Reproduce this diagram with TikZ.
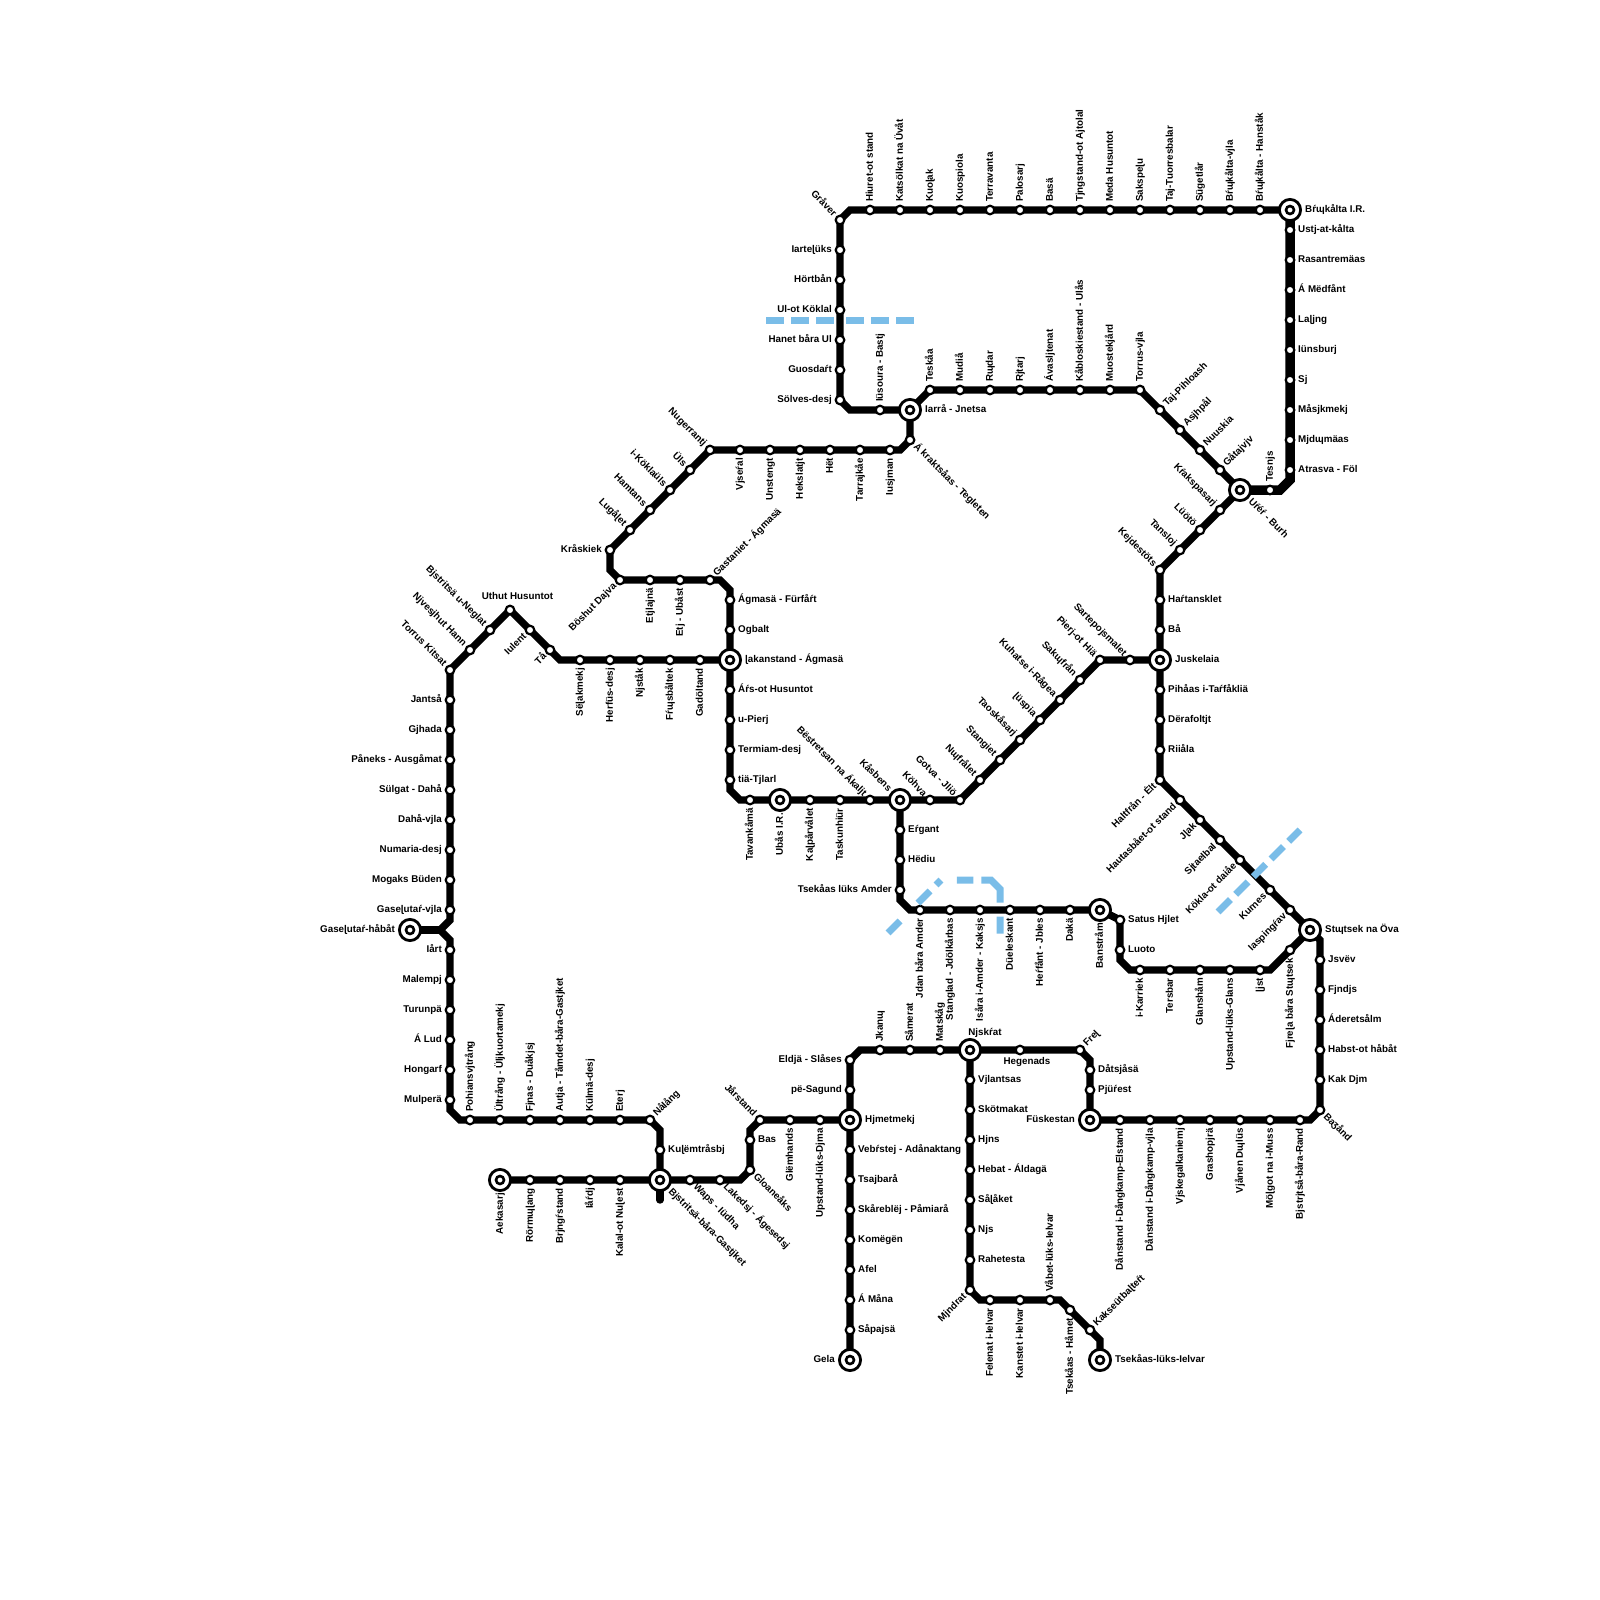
\documentclass[tikz,border=0pt]{standalone}
\usepackage{fontspec}
\setmainfont{Liberation Sans}
\usetikzlibrary{backgrounds}
\definecolor{zoneblue}{HTML}{7ABDE8}

\begin{document}
\begin{tikzpicture}[
  x=1pt, y=-1pt,
  stop/.style={circle, draw=black, fill=white, line width=2.2pt, inner sep=0pt, minimum size=8.6pt},
  hub/.style={circle, draw=black, fill=white, line width=2.8pt, inner sep=0pt, minimum size=21.2pt},
  hubin/.style={circle, draw=black, fill=white, line width=2.6pt, inner sep=0pt, minimum size=8pt},
  metro/.style={line width=7.4pt},
  trunk/.style={line width=9.5pt},
  zone/.style={line width=7pt, zoneblue},
  lbl/.style={font=\bfseries\fontsize{9.8}{11}\selectfont, inner sep=0pt, text height=7.2pt, text depth=1.6pt},
  % station labels
  lup/.style={lbl, rotate=90, anchor=west, xshift=8pt},
  ldn/.style={lbl, rotate=90, anchor=east, xshift=-8pt},
  lle/.style={lbl, anchor=east, xshift=-8pt},
  lri/.style={lbl, anchor=west, xshift=8pt},
  lur/.style={lbl, rotate=45, anchor=west, xshift=7pt},
  ldl/.style={lbl, rotate=45, anchor=east, xshift=-7pt},
  lul/.style={lbl, rotate=-45, anchor=east, xshift=-7pt},
  ldr/.style={lbl, rotate=-45, anchor=west, xshift=7pt},
  ltop/.style={lbl, anchor=south, xshift=7.5pt, yshift=9pt},
  lbot/.style={lbl, anchor=north, xshift=7pt, yshift=-7.5pt},
  % hub labels
  hri/.style={lbl, anchor=west, xshift=15pt},
  hle/.style={lbl, anchor=east, xshift=-15pt},
  hdn/.style={lbl, rotate=90, anchor=east, xshift=-13pt},
  hul/.style={lbl, rotate=-45, anchor=east, xshift=-14pt},
  hdr/.style={lbl, rotate=-45, anchor=west, xshift=14pt},
  htop/.style={lbl, anchor=south, xshift=15pt, yshift=13pt},
]
\useasboundingbox (0,0) rectangle (1600,1600);

% Interchanges
\foreach \id/\sx/\sy/\sdir/\stxt in {
  iarra/910/410/hri/Iarrå - Jnetsa, bruk/1290/210/hri/Bŕɰkålta I.R.,
  urer/1240/490/hdr/Uŕéŕ - Burh, jusk/1160/660/hri/Juskelaia,
  kasb/900/800/hul/Kåsbens, ubas/780/800/hdn/Ubås I.R.,
  lakan/730/660/hri/ɭakanstand - Ágmasä, stut/1310/930/hri/Stɰtsek na Öva,
  bans/1100/910/hdn/Banstråm, gase/410/930/hle/Gaseɭutaŕ-håbåt,
  bjst/660/1180/hdr/Bjstritsä-båra-Gastjket, aeka/500/1180/hdn/Aekasarj,
  hjme/850/1120/hri/Hjmetmekj, njsk/970/1050/htop/Njskŕat,
  fusk/1090/1120/hle/Füskestan, gela/850/1360/hle/Gela,
  tsek/1100/1360/hri/Tsekåas-lüks-Ielvar}
{
  \node[hub] (\id) at (\sx,\sy) {};
  \node[hubin] (\id-c) at (\id) {};
  \node[\sdir] (\id-t) at (\id) {\stxt};
}

% Stations
\foreach \id/\sx/\sy/\sdir/\stxt in {
  a1/880/410/lup/Iüsoura - Bastj, a2/840/400/lle/Sölves-desj, a3/840/370/lle/Guosdaŕt,
  a4/840/340/lle/Hanet båra Ul, a5/840/310/lle/Ul-ot Köklal, a6/840/280/lle/Hörtbån,
  a7/840/250/lle/Iarteɭüks, a8/840/220/lul/Gråver, a9/870/210/lup/Hiuret-ot stand,
  a10/900/210/lup/Katsölkat na Üvåt, a11/930/210/lup/Kuoɭak, a12/960/210/lup/Kuospiola,
  a13/990/210/lup/Terravanta, a14/1020/210/lup/Palosarj, a15/1050/210/lup/Basä,
  a16/1080/210/lup/Tjngstand-ot Ajtolal, a17/1110/210/lup/Meda Husuntot,
  a18/1140/210/lup/Sakspeɭu, a19/1170/210/lup/Taj-Tuorresbalar, a20/1200/210/lup/Sügetlår,
  a21/1230/210/lup/Bŕɰkålta-vjla, a22/1260/210/lup/Bŕɰkålta - Hanståk,
  a23/1290/230/lri/Ustj-at-kålta, a24/1290/260/lri/Rasantremäas, a25/1290/290/lri/Á Mëdfånt,
  a26/1290/320/lri/Laɭjng, a27/1290/350/lri/Iünsburj, a28/1290/380/lri/Sj,
  a29/1290/410/lri/Måsjkmekj, a30/1290/440/lri/Mjdɰmäas, a31/1290/470/lri/Atrasva - Föl,
  a32/1270/490/lup/Tesnjs,
  b1/930/390/lup/Teskåa, b2/960/390/lup/Mudiå, b3/990/390/lup/Rɰdar, b4/1020/390/lup/Rjtarj,
  b5/1050/390/lup/Ávasljtenat, b6/1080/390/lup/Kåbloskiestand - Ulås,
  b7/1110/390/lup/Muostekjård, b8/1140/390/lup/Torrus-vjla, b9/1160/410/lur/Taj-Pihloash,
  b10/1180/430/lur/Asjhpål, b11/1200/450/lur/Nuuskia, b12/1220/470/lur/Gåtajvjv,
  c1/1220/510/lul/Kŕakspasarj, c2/1200/530/lul/Lüötö, c3/1180/550/lul/Tansloj,
  c4/1160/570/lul/Kejdestöts, c5/1160/600/lri/Haŕtansklet, c6/1160/630/lri/Bå,
  c7/1160/690/lri/Pihåas i-Taŕfåkliä, c8/1160/720/lri/Dërafoltjt, c9/1160/750/lri/Riiåla,
  c10/1160/780/ldl/Haltfrån - Ėlt, c11/1180/800/ldl/Hautasbået-ot stand, c12/1200/820/ldl/Jɭak,
  c13/1220/840/ldl/Sjtaelbal, c14/1240/860/ldl/Kökla-ot daiåe, c15/1270/890/ldl/Kurnes,
  c16/1290/910/ldl/Iaspingŕav,
  d1/1130/660/lul/Sartepojsmalet, d2/1100/660/lul/Pierj-ot Hiä, d3/1080/680/lul/Sakɰfrån,
  d4/1060/700/lul/Kuhatse i-Rågea, d5/1040/720/lul/ɭüspia, d6/1020/740/lul/Taoskåsarj,
  d7/1000/760/lul/Stangiet, d8/980/780/lul/Nɰfrålet, d9/960/800/lul/Gotva - Jliö,
  d10/930/800/lul/Köhva, d11/870/800/lul/Bëstretsan na Ákaljt, d12/840/800/ldn/Taskunhiür,
  d13/810/800/ldn/Kaɭpårvålet, d14/750/800/ldn/Tavankåmä, d15/730/780/lri/tiä-Tjlarl,
  d16/730/750/lri/Termiam-desj, d17/730/720/lri/u-Pierj, d18/730/690/lri/Áŕs-ot Husuntot,
  e1/730/630/lri/Ogbalt, e2/730/600/lri/Ágmasä - Fürfåŕt, e3/710/580/lur/Gastaniet - Ágmasä,
  e4/680/580/ldn/Etj - Ubåst, e5/650/580/ldn/Etjlajnä, e6/620/580/ldl/Böshut Dajva,
  e7/610/550/lle/Kråskiek, e8/630/530/lul/Lugåɭet, e9/650/510/lul/Hamtans,
  e10/670/490/lul/i-Köklaüls, e11/690/470/lul/Üls, e12/710/450/lul/Nugerrantj,
  e13/740/450/ldn/Vjseŕal, e14/770/450/ldn/Unstengt, e15/800/450/ldn/Hekslatjt,
  e16/830/450/ldn/Hët, e17/860/450/ldn/Tarrajkåe, e18/890/450/ldn/Iusjman,
  e19/910/440/ldr/Á kraktsåas - Tegleten,
  f1/700/660/ldn/Gadöltand, f2/670/660/ldn/Fŕɰsbåltek, f3/640/660/ldn/Njståk,
  f4/610/660/ldn/Herfüs-desj, f5/580/660/ldn/Sëɭakmekj, f6/550/650/ldl/Tå,
  f7/530/630/ldl/Iulent, f8/510/610/ltop/Uthut Husuntot, f9/490/630/lul/Bjstritsä u-Neglat,
  f10/470/650/lul/Njvesjhut Hann, f11/450/670/lul/Torrus Kitsat, f12/450/700/lle/Jantså,
  f13/450/730/lle/Gjhada, f14/450/760/lle/Påneks - Ausgåmat, f15/450/790/lle/Sülgat - Dahå,
  f16/450/820/lle/Dahå-vjla, f17/450/850/lle/Numaria-desj, f18/450/880/lle/Mogaks Büden,
  f19/450/910/lle/Gaseɭutaŕ-vjla, f20/450/950/lle/Iårt, f21/450/980/lle/Malempj,
  f22/450/1010/lle/Turunpä, f23/450/1040/lle/Á Lud, f24/450/1070/lle/Hongarf,
  f25/450/1100/lle/Mulperä, f26/470/1120/lup/Pohiansvjtrång,
  f27/500/1120/lup/Ültrång - Üljkuortamekj, f28/530/1120/lup/Fjnas - Duåkjsj,
  f29/560/1120/lup/Autja - Tåmdet-båra-Gastjket, f30/590/1120/lup/Külmä-desj,
  f31/620/1120/lup/Eterj, f32/650/1120/lur/Nålång, f33/660/1150/lri/Kuɭëmtråsbj,
  h1/530/1180/ldn/Rörmɰɭang, h2/560/1180/ldn/Brjngŕstand, h3/590/1180/ldn/Iåŕdj,
  h4/620/1180/ldn/Kalal-ot Nuɭest, h5/690/1180/ldr/Waps - Iüdha,
  h6/720/1180/ldr/Lakedsj - Ágesedsj, h7/750/1170/ldr/Gloaneåks, h8/750/1140/lri/Bas,
  h9/760/1120/lul/Jårstand, h10/790/1120/ldn/Glëmhands, h11/820/1120/ldn/Upstand-lüks-Djma,
  i1/1320/960/lri/Jsvëv, i2/1320/990/lri/Fjndjs, i3/1320/1020/lri/Áderetsålm,
  i4/1320/1050/lri/Habst-ot håbåt, i5/1320/1080/lri/Kak Djm, i6/1320/1110/ldr/Baʒånd,
  i7/1300/1120/ldn/Bjstrjtså-båra-Rand, i8/1270/1120/ldn/Möɭgot na i-Muss,
  i9/1240/1120/ldn/Vjånen Dɰlüs, i10/1210/1120/ldn/Grashopjrä,
  i11/1180/1120/ldn/Vjskegalkaniemj, i12/1150/1120/ldn/Dånstand i-Dångkamp-vjla,
  i13/1120/1120/ldn/Dånstand i-Dångkamp-Elstand, i14/1090/1090/lri/Pjüŕest,
  i15/1090/1070/lri/Dåtsjåsä, i16/1080/1050/lur/Freɭ, i17/1020/1050/lbot/Hegenads,
  i18/940/1050/lup/Matskåg, i19/910/1050/lup/Såmerat, i20/880/1050/lup/Jkanɰ,
  i21/850/1060/lle/Eldjä - Slåses, i22/850/1090/lle/pë-Sagund,
  i23/850/1150/lri/Vebŕstej - Adånaktang, i24/850/1180/lri/Tsajbarå,
  i25/850/1210/lri/Skåreblëj - Påmiarå, i26/850/1240/lri/Komëgën, i27/850/1270/lri/Afel,
  i28/850/1300/lri/Á Måna, i29/850/1330/lri/Såpajsä,
  j1/1290/950/ldn/Fjreɭa båra Stɰtsek, j2/1260/970/ldn/ɭjst, j3/1230/970/ldn/Upstand-lüks-Glans,
  j4/1200/970/ldn/Glanshåm, j5/1170/970/ldn/Tersbar, j6/1140/970/ldn/i-Karriek,
  j7/1120/950/lri/Luoto, j8/1120/920/lri/Satus Hjlet, j9/1070/910/ldn/Dakä,
  j10/1040/910/ldn/Heŕfånt - Jbles, j11/1010/910/ldn/Düeleskant,
  j12/980/910/ldn/Isåra i-Amder - Kaksjs, j13/950/910/ldn/Stanglad - Jdölkårbas,
  j14/920/910/ldn/Jdan båra Amder, j15/900/890/lle/Tsekåas lüks Amder,
  j16/900/860/lri/Hëdiu, j17/900/830/lri/Eŕgant,
  k1/970/1080/lri/Vjlantsas, k2/970/1110/lri/Skötmakat, k3/970/1140/lri/Hjns,
  k4/970/1170/lri/Hebat - Áldagä, k5/970/1200/lri/Såɭåket, k6/970/1230/lri/Njs,
  k7/970/1260/lri/Rahetesta, k8/970/1290/ldl/Mjndrat, k9/990/1300/ldn/Felenat i-Ielvar,
  k10/1020/1300/ldn/Kanstet i-Ielvar, k11/1050/1300/lup/Våbet-lüks-Ielvar,
  k12/1070/1310/ldn/Tsekåas - Håmet, k13/1090/1330/lur/Kakseütbaɭteŕt}
{
  \node[stop] (\id) at (\sx,\sy) {};
  \node[\sdir] (\id-t) at (\id) {\stxt};
}

% Bends
\foreach \id/\sx/\sy in {
  ca1/850/410, ca2/850/210, ca3/1290/480, ca4/1280/490,
  cd1/740/800, cd2/730/790, ce1/730/590, ce2/720/580, ce3/610/570, ce4/900/450,
  cf1/560/660, cf2/450/920, cf3/440/930, cf4/450/940, cf5/450/1110, cf6/460/1120, cf7/660/1130,
  ch1/740/1180, ch2/750/1130, ch3/660/1200,
  ci1/1320/940, ci2/1310/1120, ci3/1090/1060, ci4/860/1050,
  cj1/1270/970, cj2/1130/970, cj3/1120/960, cj4/910/910, cj5/900/900,
  ck1/980/1300, ck2/1060/1300, ck3/1100/1340}
{
  \coordinate (\id) at (\sx,\sy);
}

\begin{scope}[on background layer]
% Northern loop
\draw[metro] (iarra.center) -- (a1.center) -- (ca1) \foreach \i in {2,...,8}{-- (a\i.center)}
  -- (ca2) \foreach \i in {9,...,22}{-- (a\i.center)} -- (bruk.center);
\draw[trunk] (bruk.center) \foreach \i in {23,...,31}{-- (a\i.center)}
  -- (ca3) -- (ca4) -- (a32.center) -- (urer.center);
\draw[metro] (iarra.center) \foreach \i in {1,...,12}{-- (b\i.center)} -- (urer.center);
% East side
\draw[metro] (urer.center) \foreach \i in {1,...,6}{-- (c\i.center)} -- (jusk.center)
  \foreach \i in {7,...,16}{-- (c\i.center)} -- (stut.center);
\draw[metro] (jusk.center) \foreach \i in {1,...,10}{-- (d\i.center)} -- (kasb.center)
  -- (d11.center) -- (d12.center) -- (d13.center) -- (ubas.center) -- (d14.center)
  -- (cd1) -- (cd2) \foreach \i in {15,...,18}{-- (d\i.center)} -- (lakan.center);
% West side
\draw[metro] (lakan.center) -- (e1.center) -- (e2.center) -- (ce1) -- (ce2)
  \foreach \i in {3,...,6}{-- (e\i.center)} -- (ce3)
  \foreach \i in {7,...,18}{-- (e\i.center)} -- (ce4) -- (e19.center) -- (iarra.center);
\draw[metro] (lakan.center) \foreach \i in {1,...,5}{-- (f\i.center)} -- (cf1)
  \foreach \i in {6,...,19}{-- (f\i.center)} -- (cf2) -- (cf3) -- (cf4)
  \foreach \i in {20,...,25}{-- (f\i.center)} -- (cf5) -- (cf6)
  \foreach \i in {26,...,32}{-- (f\i.center)} -- (cf7) -- (f33.center) -- (bjst.center);
\draw[metro] (gase.center) -- (cf3);
% South side
\draw[metro] (aeka.center) \foreach \i in {1,...,4}{-- (h\i.center)} -- (bjst.center)
  -- (h5.center) -- (h6.center) -- (ch1) -- (h7.center) -- (h8.center) -- (ch2)
  \foreach \i in {9,...,11}{-- (h\i.center)} -- (hjme.center);
\draw[metro, line cap=round] (bjst.center) -- (ch3);
\draw[metro] (stut.center) -- (ci1) \foreach \i in {1,...,6}{-- (i\i.center)} -- (ci2)
  \foreach \i in {7,...,13}{-- (i\i.center)} -- (fusk.center) -- (i14.center) -- (i15.center)
  -- (ci3) -- (i16.center) -- (i17.center) -- (njsk.center)
  \foreach \i in {18,...,20}{-- (i\i.center)} -- (ci4) -- (i21.center) -- (i22.center)
  -- (hjme.center) \foreach \i in {23,...,29}{-- (i\i.center)} -- (gela.center);
\draw[metro] (stut.center) -- (j1.center) -- (cj1)
  \foreach \i in {2,...,6}{-- (j\i.center)} -- (cj2) -- (cj3) -- (j7.center) -- (j8.center)
  -- (bans.center) \foreach \i in {9,...,14}{-- (j\i.center)} -- (cj4) -- (cj5)
  \foreach \i in {15,...,17}{-- (j\i.center)} -- (kasb.center);
\draw[metro] (njsk.center) \foreach \i in {1,...,8}{-- (k\i.center)} -- (ck1) -- (k9.center)
  -- (k10.center) -- (k11.center) -- (ck2) -- (k12.center) -- (k13.center) -- (ck3) -- (tsek.center);
\end{scope}

% Zone borders
\coordinate (zn1) at (766,320);
\coordinate (zn2) at (914,320);
\coordinate (zc1) at (888,933);
\coordinate (zc2) at (941,880);
\coordinate (zc3) at (991,880);
\coordinate (zc4) at (1000,889);
\coordinate (zc5) at (1000,934);
\coordinate (ze1) at (1218,912);
\coordinate (ze2) at (1300,830);
\draw[zone, dash pattern=on 17.5pt off 7.5pt on 17.5pt off 7.5pt on 18pt off 12pt on 17.5pt off 7.5pt on 17.5pt off 7.5pt on 18pt]
  (zn1) -- (zn2);
\draw[zone, dash pattern=on 17pt off 25.4pt on 17pt off 8.5pt on 7pt off 16pt on 16.5pt off 8pt on 36pt off 14pt on 17pt]
  (zc1) -- (zc2) -- (zc3) -- (zc4) -- (zc5);
\draw[zone, dash pattern=on 17.5pt off 7.5pt] (ze1) -- (ze2);
\end{tikzpicture}
\end{document}
